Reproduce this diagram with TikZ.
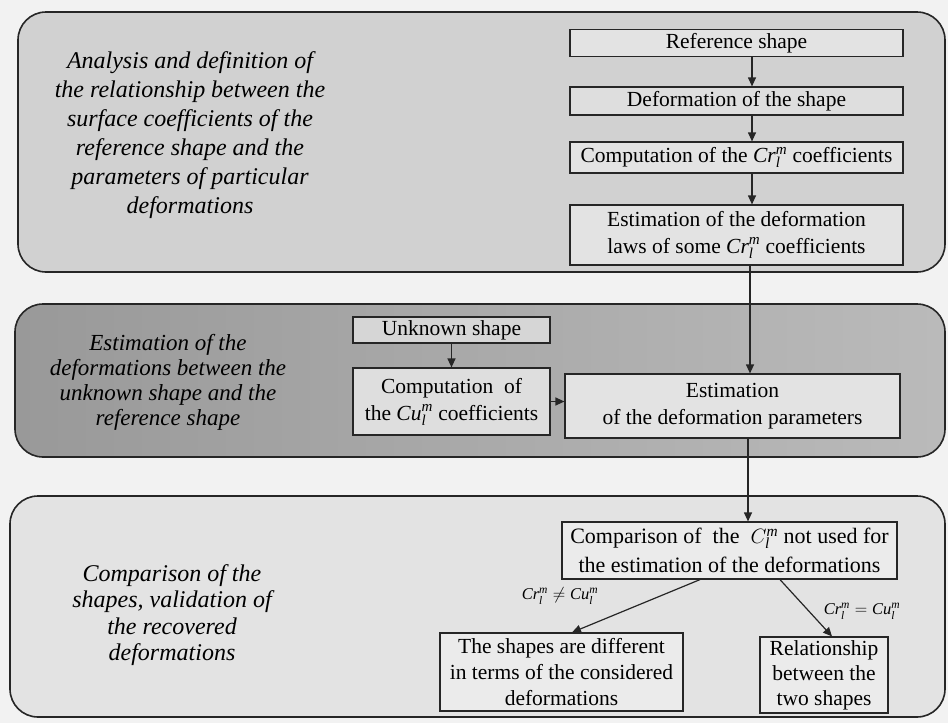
\documentclass[tikz,border=0pt]{standalone}
\usepackage{fontspec}
\setmainfont{Liberation Serif}
\usetikzlibrary{arrows.meta}
\begin{document}
\begin{tikzpicture}[x=1pt,y=-1pt,
  panel/.style={draw=black!85, line width=1.6pt, rounded corners=28pt},
  box/.style={draw=black!85, line width=1.2pt, inner sep=0pt, align=center,
    font=\fontsize{21.5}{27}\selectfont},
  arr/.style={-{Triangle[length=9pt,width=8pt]}, line width=1.2pt, draw=black!85},
  lab/.style={align=center, font=\fontsize{24}{29}\selectfont\itshape},
  cond/.style={font=\fontsize{16.5}{19}\selectfont, inner sep=1pt}
]
\fill[black!5] (0,0) rectangle (948,723);
\useasboundingbox (0,0) rectangle (948,723);
% panels
\draw[panel, fill=black!18] (18,12) rectangle (945,272);
\draw[panel, left color=black!40, right color=black!27] (15,304) rectangle (945,457);
\draw[panel, fill=black!11] (10,496) rectangle (945,717);
% panel texts
\node[lab] (t1) at (190,135) {Analysis and definition of\\the relationship between the\\surface coefficients of the\\reference shape and the\\parameters of particular\\deformations};
\node[lab, font=\fontsize{23}{25}\selectfont\itshape] (t2) at (168,382) {Estimation of the\\deformations between the\\unknown shape and the\\reference shape};
\node[lab, font=\fontsize{24}{26.5}\selectfont\itshape] (t3) at (172,615) {Comparison of the\\shapes, validation of\\the recovered\\deformations};
% boxes panel 1
\node[box, fill=black!11, minimum width=333pt, minimum height=27pt] (ref) at (736.5,43) {Reference shape};
\node[box, fill=black!13, minimum width=333pt, minimum height=28pt] (def) at (736.5,101) {Deformation of the shape};
\node[box, fill=black!11, minimum width=333pt, minimum height=31pt] (comp) at (736.5,157.5) {Computation of the $\mathit{Cr}_{\mathit{l}}^{\mathit{m}}$ coefficients};
\node[box, fill=black!11, minimum width=333pt, minimum height=60pt] (estlaw) at (736.5,235) {Estimation of the deformation\\laws of some $\mathit{Cr}_{\mathit{l}}^{\mathit{m}}$ coefficients};
% boxes panel 2
\node[box, fill=black!16, minimum width=197pt, minimum height=26pt] (unk) at (451.5,330) {Unknown shape};
\node[box, fill=black!13, minimum width=197pt, minimum height=67pt] (compu) at (451.5,401.5) {Computation~~of\\the $\mathit{Cu}_{\mathit{l}}^{\mathit{m}}$ coefficients};
\node[box, fill=black!11, minimum width=335pt, minimum height=64pt] (estpar) at (732.5,406) {Estimation\\of the deformation parameters};
% boxes panel 3
\node[box, fill=black!8, minimum width=335pt, minimum height=57pt, font=\fontsize{22}{29}\selectfont] (cmp) at (729.5,550.5) {Comparison of~ the~ $C_{\mathit{l}}^{\mathit{m}}$ not used for\\the estimation of the deformations};
\node[box, fill=black!8, minimum width=243pt, minimum height=78pt, font=\fontsize{21.5}{26}\selectfont] (diff) at (561.5,672) {The shapes are different\\in terms of the considered\\deformations};
\node[box, fill=black!8, minimum width=128pt, minimum height=76pt, font=\fontsize{21.5}{25}\selectfont] (rel) at (824,675) {Relationship\\between the\\two shapes};
% connectors
\coordinate (ax) at (752,0);
\coordinate (bx) at (750,0);
\coordinate (cx) at (748,0);
\coordinate (d1) at (700,0);
\coordinate (d2) at (572,0);
\coordinate (e1) at (780,0);
\coordinate (e2) at (832,0);
\draw[arr] (ref.south -| ax) -- (def.north -| ax);
\draw[arr] (def.south -| ax) -- (comp.north -| ax);
\draw[arr] (comp.south -| ax) -- (estlaw.north -| ax);
\draw[arr] (estlaw.south -| bx) -- (estpar.north -| bx);
\draw[arr] (unk.south) -- (compu.north);
\draw[arr] (compu.east) -- (estpar.west |- compu.east);
\draw[arr] (estpar.south -| cx) -- (cmp.north -| cx);
\draw[arr] (cmp.south -| d1) -- (diff.north -| d2);
\draw[arr] (cmp.south -| e1) -- (rel.north -| e2);
\node[cond] (c1) at (560,596) {$\mathit{Cr}_{\mathit{l}}^{\mathit{m}} \neq \mathit{Cu}_{\mathit{l}}^{\mathit{m}}$};
\node[cond] (c2) at (862,611) {$\mathit{Cr}_{\mathit{l}}^{\mathit{m}} = \mathit{Cu}_{\mathit{l}}^{\mathit{m}}$};
\end{tikzpicture}
\end{document}
